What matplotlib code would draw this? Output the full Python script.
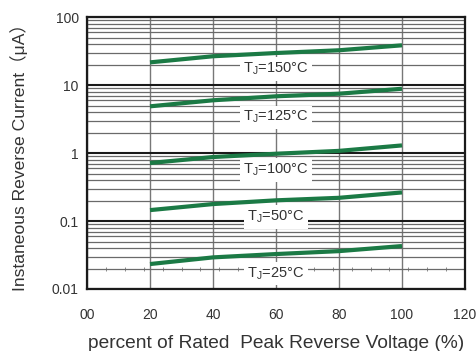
import matplotlib
matplotlib.use("Agg")
import matplotlib.pyplot as plt
import numpy as np
from matplotlib.ticker import NullFormatter, LogLocator

plt.rcParams['font.family'] = ['Liberation Sans', 'Noto Sans CJK SC', 'DejaVu Sans']
plt.rcParams['mathtext.fontset'] = 'custom'
plt.rcParams['mathtext.rm'] = 'Liberation Sans'

# data
voltage_pct = [20, 40, 60, 80, 100]
i_150 = [21.7, 26.7, 29.8, 32.7, 38.7]
i_125 = [4.89, 6.0, 6.87, 7.5, 8.87]
i_100 = [0.715, 0.877, 0.98, 1.08, 1.30]
i_50 = [0.145, 0.178, 0.202, 0.220, 0.264]
i_25 = [0.0233, 0.0292, 0.0327, 0.0361, 0.0429]
series = [i_150, i_125, i_100, i_50, i_25]
labels = ["T$_\\mathregular{J}$=150°C", "T$_\\mathregular{J}$=125°C", "T$_\\mathregular{J}$=100°C",
          "T$_\\mathregular{J}$=50°C", "T$_\\mathregular{J}$=25°C"]
label_y = [17.3, 3.39, 0.564, 0.1146, 0.0171]
x_ticks = [0, 20, 40, 60, 80, 100, 120]
x_ticklabels = ["00", "20", "40", "60", "80", "100", "120"]
y_ticks = [0.01, 0.1, 1, 10, 100]
y_ticklabels = ["0.01", "0.1", "1", "10", "100"]

text_col = '#333333'
green = '#1b7a45'

fig = plt.figure(figsize=(4.76, 3.51), dpi=100)
ax = fig.add_axes([87/476, 1-289/351, (465-87)/476, (289-17.3)/351])
ax.set_yscale('log')
ax.set_xlim(0, 120)
ax.set_ylim(0.01, 100)

ax.set_xticks(x_ticks)
ax.set_xticklabels(x_ticklabels)
ax.set_yticks(y_ticks)
ax.set_yticklabels(y_ticklabels)
ax.yaxis.set_minor_locator(LogLocator(base=10, subs=np.arange(2, 10), numticks=20))
ax.yaxis.set_minor_formatter(NullFormatter())
ax.tick_params(axis='both', which='both', length=0, colors=text_col, labelsize=10)
ax.tick_params(axis='x', pad=14)
ax.tick_params(axis='y', pad=6)

ax.grid(True, which='minor', axis='y', color='#6a6a6a', lw=0.9, zorder=1)
ax.grid(True, which='major', axis='y', color='#1a1a1a', lw=1.5, zorder=1)
ax.grid(True, which='major', axis='x', color='#777777', lw=1.0, zorder=1)

# small tick marks along 0.02 line
dash_x = np.arange(6, 120, 6)
ax.plot(dash_x, [0.02]*len(dash_x), ls='none', marker='|', ms=2.2, mew=0.6, color='#777777', zorder=1.5)

for s in series:
    ax.plot(voltage_pct, s, color=green, lw=3, solid_capstyle='butt', zorder=3)

for lab, yy in zip(labels, label_y):
    ax.text(60, yy, lab, ha='center', va='center', fontsize=10.5, color=text_col,
            bbox=dict(boxstyle='square,pad=0.22', fc='white', ec='none'), zorder=4)

for sp in ax.spines.values():
    sp.set_linewidth(1.6)
    sp.set_color('#1a1a1a')

ax.set_xlabel("percent of Rated  Peak Reverse Voltage (%)", fontsize=13.8, color=text_col, labelpad=9)
ax.set_ylabel("Instaneous Reverse Current（μA）", fontsize=12.6, color=text_col, labelpad=17)

fig.savefig("out.png", dpi=100)
